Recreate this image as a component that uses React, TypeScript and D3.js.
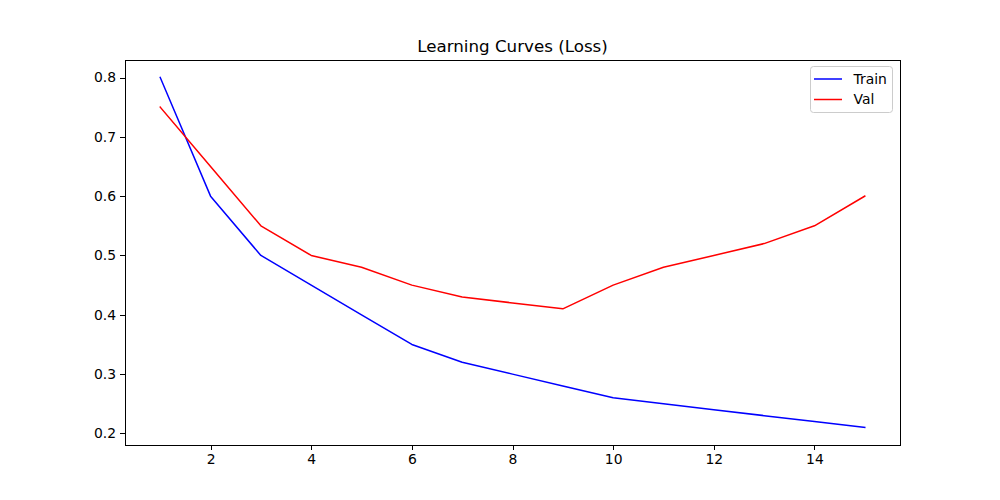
import { useEffect, useRef } from "react";
import * as d3 from "d3";

const epochs = [1, 2, 3, 4, 5, 6, 7, 8, 9, 10, 11, 12, 13, 14, 15];
const trainLoss = [0.8, 0.6, 0.5, 0.45, 0.4, 0.35, 0.32, 0.3, 0.28, 0.26, 0.25, 0.24, 0.23, 0.22, 0.21];
const valLoss = [0.75, 0.65, 0.55, 0.5, 0.48, 0.45, 0.43, 0.42, 0.41, 0.45, 0.48, 0.5, 0.52, 0.55, 0.6];
const xTicks = [2, 4, 6, 8, 10, 12, 14];
const yTicks = [0.2, 0.3, 0.4, 0.5, 0.6, 0.7, 0.8];
const series = [
  { name: "Train", values: trainLoss, color: "#0000ff" },
  { name: "Val", values: valLoss, color: "#ff0000" },
];

const W = 1000;
const H = 500;
const margin = { left: 125, right: 100, top: 60, bottom: 55 };

export default function App() {
  const svgRef = useRef<SVGSVGElement>(null);

  useEffect(() => {
    const svg = d3.select(svgRef.current);
    svg.selectAll("*").remove();
    const font = "DejaVu Sans, sans-serif";

    const allY = [...trainLoss, ...valLoss];
    const [x0, x1] = d3.extent(epochs) as [number, number];
    const [y0, y1] = d3.extent(allY) as [number, number];
    const xPad = (x1 - x0) * 0.05;
    const yPad = (y1 - y0) * 0.05;

    const x = d3.scaleLinear()
      .domain([x0 - xPad, x1 + xPad])
      .range([margin.left, W - margin.right]);
    const y = d3.scaleLinear()
      .domain([y0 - yPad, y1 + yPad])
      .range([H - margin.bottom, margin.top]);

    svg.append("rect").attr("width", W).attr("height", H).attr("fill", "#fff");

    const line = d3.line<number>()
      .x((_, i) => x(epochs[i]))
      .y((d) => y(d));

    series.forEach((s) => {
      svg.append("path")
        .datum(s.values)
        .attr("d", line)
        .attr("fill", "none")
        .attr("stroke", s.color)
        .attr("stroke-width", 1.5)
        .attr("stroke-linejoin", "round")
        .attr("stroke-linecap", "square");
    });

    // axes
    const xAxis = svg.append("g")
      .attr("transform", `translate(0,${H - margin.bottom})`)
      .call(d3.axisBottom(x).tickValues(xTicks).tickSize(4.9).tickPadding(4).tickSizeOuter(0));
    const yAxis = svg.append("g")
      .attr("transform", `translate(${margin.left},0)`)
      .call(d3.axisLeft(y).tickValues(yTicks).tickFormat(d3.format(".1f")).tickSize(4.9).tickPadding(4).tickSizeOuter(0));

    [xAxis, yAxis].forEach((g) => {
      g.select(".domain").remove();
      g.selectAll("line").attr("stroke", "#000").attr("stroke-width", 1).attr("shape-rendering", "crispEdges");
      g.selectAll("text").attr("font-family", font).attr("font-size", 13.9).attr("fill", "#000");
    });

    svg.append("rect")
      .attr("x", margin.left + 0.5)
      .attr("y", margin.top + 0.5)
      .attr("width", W - margin.left - margin.right)
      .attr("height", H - margin.top - margin.bottom)
      .attr("fill", "none")
      .attr("stroke", "#000")
      .attr("stroke-width", 1)
      .attr("shape-rendering", "crispEdges");

    svg.append("text")
      .attr("x", (margin.left + W - margin.right) / 2)
      .attr("y", margin.top - 8)
      .attr("text-anchor", "middle")
      .attr("font-family", font)
      .attr("font-size", 16.7)
      .attr("fill", "#000")
      .text("Learning Curves (Loss)");

    // legend
    const lg = svg.append("g");
    const lx = 810.5;
    const ly = 66.5;
    lg.append("rect")
      .attr("x", lx)
      .attr("y", ly)
      .attr("width", 82)
      .attr("height", 46)
      .attr("rx", 3)
      .attr("fill", "#fff")
      .attr("fill-opacity", 0.8)
      .attr("stroke", "#cccccc")
      .attr("stroke-width", 1);
    series.forEach((s, i) => {
      const cy = ly + 12.5 + i * 20.5;
      lg.append("line")
        .attr("x1", lx + 3.5)
        .attr("x2", lx + 31.5)
        .attr("y1", cy)
        .attr("y2", cy)
        .attr("stroke", s.color)
        .attr("stroke-width", 1.5);
      lg.append("text")
        .attr("x", lx + 43)
        .attr("y", cy)
        .attr("dy", "0.35em")
        .attr("font-family", font)
        .attr("font-size", 13.9)
        .attr("fill", "#000")
        .text(s.name);
    });
  }, []);

  return (
    <svg ref={svgRef} width={W} height={H} style={{ position: "absolute", left: 0, top: 0 }} />
  );
}
